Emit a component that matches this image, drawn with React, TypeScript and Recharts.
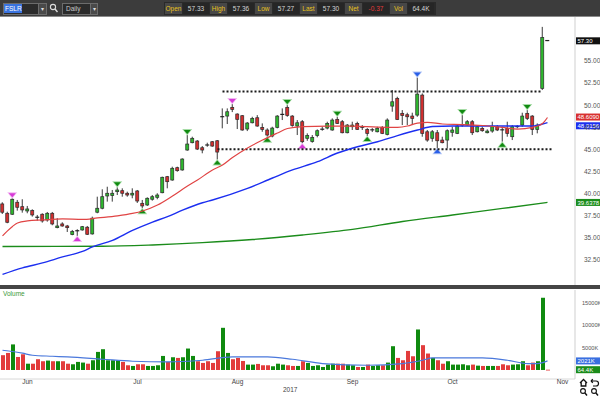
import React from 'react';
import { Bar, ComposedChart, Line, ReferenceLine, XAxis, YAxis } from 'recharts';

// FSLR daily, late May -> end of Oct 2017
const opens = [
  38.81, 37.75, 37.64, 39.0, 38.5, 38.01, 38.05, 37.3, 37.64, 36.99,
  37.75, 36.12, 36.54, 36.31, 35.33, 35.73, 35.86, 36.17, 35.41, 37.87,
  38.32, 39.71, 39.75, 40.2, 40.31, 40.02, 39.82, 40.28, 38.88, 38.69,
  39.34, 39.56, 40.08, 41.9, 41.52, 42.92, 42.66, 44.92, 45.75, 45.94,
  45.18, 45.49, 45.86, 45.97, 48.67, 48.77, 49.76, 49.0, 48.81, 47.3,
  48.01, 48.58, 47.49, 47.19, 46.51, 47.49, 48.94, 49.76, 48.77, 47.64,
  48.13, 46.25, 45.88, 46.56, 47.24, 47.41, 47.19, 48.4, 48.13, 46.88,
  47.56, 47.94, 47.47, 47.26, 47.17, 46.99, 47.49, 46.68, 49.9, 50.78,
  49.08, 48.92, 48.77, 48.88, 51.15, 46.99, 46.25, 46.88, 46.05, 46.05,
  46.93, 46.81, 47.73, 47.75, 48.13, 46.99, 47.38, 46.88, 47.07, 47.56,
  47.21, 47.38, 46.43, 47.54, 47.75, 49.08, 48.77, 47.26, 51.91, 57.33,
];
const highs = [
  39.0, 37.93, 39.45, 39.26, 39.34, 38.58, 38.2, 37.56, 37.75, 37.9,
  37.9, 37.19, 36.73, 36.43, 35.86, 35.94, 36.31, 36.31, 37.37, 39.63,
  40.47, 40.76, 40.39, 40.7, 40.58, 40.2, 40.58, 40.39, 39.26, 39.56,
  39.82, 40.02, 41.9, 41.98, 43.03, 43.03, 43.98, 46.62, 46.43, 46.05,
  45.37, 45.75, 45.94, 46.05, 49.64, 49.64, 50.13, 49.08, 48.88, 48.09,
  48.69, 48.88, 47.94, 47.38, 47.56, 48.88, 49.64, 50.02, 48.88, 48.32,
  48.32, 46.81, 46.62, 47.26, 47.56, 48.13, 48.51, 48.69, 48.32, 47.87,
  48.13, 48.13, 47.75, 47.41, 47.41, 47.56, 47.64, 48.51, 51.72, 50.96,
  49.45, 49.15, 49.15, 53.15, 51.34, 47.19, 47.19, 47.19, 46.43, 47.26,
  47.56, 47.87, 48.88, 48.32, 48.32, 47.75, 47.56, 47.26, 48.13, 47.75,
  47.56, 48.13, 47.75, 47.75, 49.15, 49.45, 48.88, 47.94, 58.88, 57.36,
];
const lows = [
  37.67, 36.62, 37.56, 38.05, 37.82, 37.75, 37.37, 36.91, 36.69, 36.8,
  36.39, 36.05, 36.23, 35.63, 35.26, 35.18, 35.78, 35.29, 35.33, 37.75,
  38.2, 39.07, 39.07, 39.82, 39.63, 39.63, 39.45, 38.92, 38.32, 38.58,
  39.18, 39.34, 40.02, 40.58, 41.44, 42.46, 42.58, 44.84, 45.68, 44.92,
  44.55, 45.29, 45.29, 43.84, 47.38, 47.87, 49.22, 47.3, 47.11, 47.07,
  47.94, 47.56, 46.99, 46.43, 46.36, 47.38, 48.32, 48.69, 47.56, 46.62,
  45.68, 45.97, 45.75, 46.36, 47.11, 47.26, 47.11, 47.87, 46.81, 46.81,
  47.19, 47.19, 47.19, 46.51, 46.96, 46.92, 46.73, 46.58, 49.26, 48.32,
  47.75, 47.75, 47.75, 48.69, 46.43, 45.86, 45.86, 45.11, 45.68, 45.11,
  46.43, 46.73, 47.56, 47.64, 46.62, 46.92, 46.99, 46.81, 46.88, 47.07,
  45.86, 46.43, 46.05, 47.38, 47.56, 48.32, 46.62, 46.81, 51.72, 57.27,
];
const closes = [
  37.87, 36.73, 39.34, 38.43, 38.13, 38.24, 37.56, 37.27, 36.88, 37.75,
  36.54, 36.31, 36.31, 36.12, 35.67, 35.77, 36.23, 35.37, 37.19, 38.32,
  39.63, 40.02, 40.02, 40.39, 40.02, 39.82, 40.02, 39.14, 38.58, 39.45,
  39.63, 39.82, 41.83, 41.33, 42.85, 42.58, 43.9, 45.6, 46.25, 45.03,
  44.92, 45.45, 45.37, 44.69, 48.7, 49.26, 49.53, 48.4, 47.19, 47.98,
  48.51, 47.64, 47.26, 46.62, 47.41, 48.77, 48.96, 48.85, 47.7, 48.01,
  45.86, 46.56, 46.36, 47.11, 47.28, 47.94, 48.32, 47.94, 46.88, 47.75,
  47.75, 47.26, 47.51, 46.81, 47.21, 47.38, 46.81, 48.32, 50.39, 48.37,
  48.83, 48.69, 48.51, 51.26, 46.81, 46.05, 46.99, 45.97, 45.75, 47.11,
  47.19, 47.64, 47.77, 48.13, 46.88, 47.56, 47.11, 47.07, 47.56, 47.19,
  47.17, 46.81, 47.56, 47.58, 48.77, 48.51, 47.26, 47.75, 57.67, 57.3,
];
// volume in thousands of shares
const volumes = [
  3300, 3800, 5700, 2900, 3500, 1400, 1400, 2400, 1950, 2100,
  1950, 1950, 1950, 1400, 1270, 1800, 1650, 1400, 2170, 4030,
  4630, 2170, 2170, 2170, 1800, 1050, 900, 1270, 1270, 900,
  900, 1050, 3130, 1800, 2840, 2690, 2840, 4780, 3130, 1950,
  1570, 1950, 1570, 4180, 9400, 3800, 2400, 2690, 2010, 1200,
  1200, 1350, 1050, 1050, 830, 1400, 1200, 1050, 900, 900,
  1950, 1570, 900, 1050, 670, 1200, 1400, 1400, 1400, 1200,
  1050, 670, 670, 1200, 900, 1050, 1050, 1650, 5300, 2690,
  2170, 4250, 3060, 9030, 5530, 3670, 2690, 2170, 1400, 1950,
  1200, 1200, 1270, 1050, 1200, 970, 900, 900, 900, 900,
  1270, 1050, 1200, 1270, 1950, 1050, 1650, 1950, 16100, 64.4,
];

// moving averages, read at a few points along each line
const ma20Knots = [
  [0, 35.18], [1, 35.75], [2, 36.26], [3, 36.65], [5, 36.88], [8, 36.99], [12, 37.11],
  [16, 37.05], [19, 37.22], [23, 37.45], [26, 37.73], [28, 38.01], [31, 38.69], [34, 39.71],
  [37, 40.84], [39, 41.52], [42, 42.66], [44, 43.22], [46, 44.07], [49, 45.15], [52, 46.05],
  [55, 46.85], [57, 47.36], [60, 47.58], [65, 47.64], [70, 47.64], [75, 47.52], [79, 47.49],
  [81, 47.64], [83, 47.98], [85, 48.06], [88, 47.87], [92, 47.81], [96, 47.7], [100, 47.49],
  [103, 47.3], [106, 47.49], [107, 47.64], [108, 47.92], [109, 48.61],
];
const ma50Knots = [
  [0, 30.82], [4, 31.56], [8, 32.12], [12, 32.8], [16, 33.43], [18, 33.94], [22, 34.67],
  [26, 35.8], [30, 36.75], [33, 37.37], [36, 38.1], [40, 38.94], [42, 39.26], [49, 40.58],
  [54, 41.75], [58, 42.66], [63, 43.6], [67, 44.58], [71, 45.29], [75, 45.86], [79, 46.56],
  [83, 47.19], [86, 47.58], [90, 47.64], [100, 47.64], [106, 47.64], [107, 47.72],
  [108, 47.87], [109, 48.02],
];
const ma200Knots = [
  [0, 33.99], [20, 34.01], [30, 34.16], [40, 34.42], [50, 34.78], [60, 35.29],
  [70, 35.92], [80, 36.82], [90, 37.56], [100, 38.3], [109, 38.98],
];
const volMaKnots = [
  [0, 4400], [4, 3740], [6, 3290], [10, 3060], [13, 2910], [20, 2390], [26, 1950],
  [33, 1790], [40, 2170], [46, 2910], [53, 2910], [58, 2390], [64, 1430], [73, 1050],
  [80, 1430], [84, 2170], [86, 2680], [96, 2680], [101, 2170], [105, 1430], [107, 1430],
  [109, 2021],
];

// pivot markers: colour letter + d (above, pointing down) / u (below, pointing up)
const markers: [number, string][] = [
  [2, 'md'], [15, 'mu'], [23, 'gd'], [28, 'gu'], [37, 'gd'], [43, 'gu'], [46, 'md'],
  [53, 'gu'], [57, 'gd'], [60, 'mu'], [67, 'gd'], [73, 'gu'], [83, 'bd'], [87, 'bu'],
  [92, 'gd'], [100, 'gu'], [105, 'gd'],
];

// dotted range lines
const levels = [
  { y: 51.55, from: 44, to: 108 },
  { y: 45.0, from: 43, to: 110 },
];

const SLOTS = 115; // candle slots across the plot, incl. empty room on the right
const monthTicks = [5, 27, 47, 70, 90, 112];
const monthLabels = ['Jun', 'Jul', 'Aug', 'Sep', 'Oct', 'Nov'];
const priceTicks = [32.5, 35, 37.5, 40, 42.5, 45, 47.5, 50, 52.5, 55];
const volTicks = [5000, 10000, 15000];

const quoteLabels = ['Open', 'High', 'Low', 'Last', 'Net', 'Vol'];
const quoteValues = ['57.33', '57.36', '57.27', '57.30', '-0.37', '64.4K'];

const rows: any[] = Array.from({ length: SLOTS }, (_, i) => {
  const r: any = { i };
  if (i < opens.length) {
    r.open = opens[i];
    r.high = highs[i];
    r.low = lows[i];
    r.close = closes[i];
    r.range = [lows[i], highs[i]];
    r.vol = volumes[i];
    r.up = closes[i] >= opens[i];
  }
  return r;
});
ma20Knots.forEach(([i, v]) => (rows[i].ma20 = v));
ma50Knots.forEach(([i, v]) => (rows[i].ma50 = v));
ma200Knots.forEach(([i, v]) => (rows[i].ma200 = v));
volMaKnots.forEach(([i, v]) => (rows[i].volMa = v));
markers.forEach(([i, m]) => (rows[i].mark = m));

const last = (k: number[][]) => k[k.length - 1][1];

const FONT = '"Liberation Sans", Arial, sans-serif';
const C_UP = '#2eb82e';
const C_DN = '#d32f2f';
const V_UP = '#0f8a0f';
const V_DN = '#e23c3c';
const MARK = { g: '#118a11', m: '#d63ad6', b: '#2a5fe8' } as Record<string, string>;
const HALO = { g: '#a6dca6', m: '#f2b6f2', b: '#b2c6f6' } as Record<string, string>;

function Candle(props: any) {
  const { x, y, width, height, payload } = props;
  if (!payload || payload.open == null) return <g />;
  const top = Math.min(y, y + height);
  const h = Math.abs(height);
  const k = h / Math.max(payload.high - payload.low, 0.0001);
  const yO = top + (payload.high - payload.open) * k;
  const yC = top + (payload.high - payload.close) * k;
  const cx = x + width / 2;
  const bTop = Math.min(yO, yC);
  const bH = Math.abs(yO - yC);
  let mark = null;
  if (payload.mark) {
    const col = payload.mark[0];
    const down = payload.mark[1] === 'd';
    const tip = down ? top - 1 : top + h + 1;
    const base = down ? tip - 4 : tip + 4;
    const pts = `${cx - 3.5},${base} ${cx + 3.5},${base} ${cx},${tip}`;
    const halo = `${cx - 5},${base + (down ? -1 : 1)} ${cx + 5},${base + (down ? -1 : 1)} ${cx},${tip + (down ? 1.5 : -1.5)}`;
    mark = (
      <g>
        <polygon points={halo} fill={HALO[col]} />
        <polygon points={pts} fill={MARK[col]} />
      </g>
    );
  }
  return (
    <g>
      <line x1={cx} x2={cx} y1={top} y2={top + h} stroke="#3a3a3a" strokeWidth={1} />
      {bH < 1.2 ? (
        <line x1={cx - 2} x2={cx + 2} y1={bTop} y2={bTop} stroke="#222" strokeWidth={1.2} />
      ) : (
        <rect x={cx - 1.5} y={bTop} width={3} height={bH} fill={payload.up ? C_UP : C_DN} stroke="#2a2a2a" strokeWidth={0.7} />
      )}
      {mark}
    </g>
  );
}

function VolBar(props: any) {
  const { x, y, height, payload } = props;
  if (!payload || payload.vol == null) return <g />;
  const top = Math.min(y, y + height);
  return <rect x={Math.round(x) + 1} y={top} width={4} height={Math.max(Math.abs(height), 0.8)} fill={payload.up ? V_UP : V_DN} />;
}

const tag = (text: string, bg: string) => (p: any) => {
  const vb = p.viewBox || {};
  const x0 = (vb.x || 0) + (vb.width || 0) + 1;
  const yy = vb.y || 0;
  return (
    <g>
      <rect x={x0} y={yy - 3.5} width={24} height={7} fill={bg} />
      <text x={x0 + 1.5} y={yy + 2.2} fontSize={6} fill="#fff" fontFamily={FONT}>
        {text}
      </text>
    </g>
  );
};

function Toolbar() {
  const box = (left: number, width: number, bg: string, color: string, text: string, key: string) => (
    <div
      key={key}
      style={{
        position: 'absolute', left, top: 3, width, height: 11, background: bg, color,
        fontSize: 6.5, lineHeight: '11px', textAlign: 'center',
      }}
    >
      {text}
    </div>
  );
  return (
    <div style={{ position: 'absolute', left: 0, top: 0, width: 600, height: 16, background: '#3c3c3c', borderBottom: '1px solid #8a8a8a' }}>
      <div style={{ position: 'absolute', left: 3, top: 3, width: 34, height: 10, background: '#2b2b2b', border: '1px solid #6c6c6c' }} />
      <div style={{ position: 'absolute', left: 4, top: 4, width: 17, height: 9, background: '#3b74e0', color: '#fff', fontSize: 6.5, lineHeight: '9px', paddingLeft: 1 }}>FSLR</div>
      <div style={{ position: 'absolute', left: 38, top: 3, width: 7, height: 10, background: '#4a4a4a', border: '1px solid #6c6c6c', color: '#ddd', fontSize: 6, lineHeight: '10px', textAlign: 'center' }}>▾</div>
      <svg style={{ position: 'absolute', left: 49, top: 3 }} width={9} height={10}>
        <circle cx={4} cy={4} r={2.6} fill="none" stroke="#ddd" strokeWidth={1.1} />
        <line x1={6} y1={6} x2={8.5} y2={9} stroke="#ddd" strokeWidth={1.4} />
      </svg>
      <div style={{ position: 'absolute', left: 62, top: 3, width: 27, height: 10, background: '#2b2b2b', border: '1px solid #6c6c6c', color: '#c8c8c8', fontSize: 6.5, lineHeight: '10px', paddingLeft: 3, boxSizing: 'content-box' }}>Daily</div>
      <div style={{ position: 'absolute', left: 90, top: 3, width: 6, height: 10, background: '#4a4a4a', border: '1px solid #6c6c6c', color: '#ddd', fontSize: 6, lineHeight: '10px', textAlign: 'center' }}>▾</div>
      <div style={{ position: 'absolute', left: 164, top: 2, width: 272, height: 13, background: '#2a2a2a' }} />
      {quoteLabels.map((l, k) => box(165 + k * 45, 17, '#474747', '#e8c21c', l, 'l' + k))}
      {quoteValues.map((v, k) =>
        box(183 + k * 45, 26, '#262626', k === 4 ? '#e23b3b' : '#d6d6d6', v, 'v' + k),
      )}
    </div>
  );
}

export default function App() {
  return (
    <div style={{ position: 'absolute', left: 0, top: 0, width: 600, height: 397, background: '#fff', overflow: 'hidden', fontFamily: FONT }}>
      <Toolbar />
      <div style={{ position: 'absolute', left: 0, top: 17 }}>
        <ComposedChart width={600} height={268} data={rows} margin={{ top: 0, right: 0, bottom: 0, left: 0 }}>
          <XAxis dataKey="i" hide />
          <YAxis
            orientation="right"
            width={25}
            domain={[29.62, 60]}
            ticks={priceTicks}
            allowDataOverflow
            tick={{ fontSize: 6.5, fill: '#555' }}
            tickFormatter={(v) => Number(v).toFixed(2)}
            tickLine={false}
            tickMargin={3}
            axisLine={{ stroke: '#cfcfcf' }}
          />
          {levels.map((l, k) => (
            <ReferenceLine
              key={k}
              segment={[{ x: l.from, y: l.y }, { x: l.to, y: l.y }]}
              stroke="#1a1a1a"
              strokeWidth={2}
              strokeDasharray="2 2"
            />
          ))}
          <Line dataKey="ma200" type="monotone" stroke="#1b8c1b" strokeWidth={1.4} dot={false} connectNulls isAnimationActive={false} />
          <Line dataKey="ma50" type="monotone" stroke="#1c2ff0" strokeWidth={1.4} dot={false} connectNulls isAnimationActive={false} />
          <Line dataKey="ma20" type="monotone" stroke="#e04444" strokeWidth={1.2} dot={false} connectNulls isAnimationActive={false} />
          <Bar dataKey="range" barSize={5} shape={(p: any) => <Candle {...p} />} isAnimationActive={false} />
          <ReferenceLine y={closes[closes.length - 1]} stroke="none" label={tag('57.30', '#111')} />
          <ReferenceLine y={last(ma20Knots) + 0.05} stroke="none" label={tag('48.6090', '#d83030')} />
          <ReferenceLine y={last(ma50Knots) - 0.35} stroke="none" label={tag('48.0156', '#1c2ff0')} />
          <ReferenceLine y={last(ma200Knots)} stroke="none" label={tag('39.6378', '#1b8c1b')} />
        </ComposedChart>
      </div>
      <div style={{ position: 'absolute', left: 0, top: 285, width: 600, height: 4, background: '#454545' }} />
      <div style={{ position: 'absolute', left: 0, top: 290 }}>
        <ComposedChart width={600} height={107} data={rows} margin={{ top: 0, right: 0, bottom: 0, left: 0 }}>
          <XAxis
            dataKey="i"
            ticks={monthTicks}
            interval={0}
            tickFormatter={(v) => monthLabels[monthTicks.indexOf(Number(v))] || ''}
            tick={{ fontSize: 6.5, fill: '#444' }}
            tickLine={false}
            tickSize={0}
            tickMargin={0}
            axisLine={{ stroke: '#d8d8d8' }}
            height={18}
          />
          <YAxis
            orientation="right"
            width={25}
            domain={[-2010, 17830]}
            ticks={volTicks}
            allowDataOverflow
            tick={{ fontSize: 5.6, fill: '#555' }}
            tickFormatter={(v) => `${v}K`}
            tickLine={false}
            tickMargin={1}
            axisLine={{ stroke: '#cfcfcf' }}
          />
          <Bar dataKey="vol" barSize={5} shape={(p: any) => <VolBar {...p} />} isAnimationActive={false} />
          <Line dataKey="volMa" type="monotone" stroke="#4a78dc" strokeWidth={1.2} dot={false} connectNulls isAnimationActive={false} />
          <ReferenceLine y={last(volMaKnots)} stroke="none" label={tag('2021K', '#3a6fe0')} />
          <ReferenceLine y={volumes[volumes.length - 1]} stroke="none" label={tag('64.4K', '#1b8c1b')} />
        </ComposedChart>
      </div>
      <div style={{ position: 'absolute', left: 3, top: 290, fontSize: 6.5, color: '#3a9a3a' }}>Volume</div>
      <div style={{ position: 'absolute', left: 283, top: 386, fontSize: 6.5, color: '#444' }}>2017</div>
      <svg style={{ position: 'absolute', left: 579, top: 378 }} width={21} height={19}>
        <path d="M1 5 L4.5 1.5 L8 5 M2.2 4.5 V8 H6.8 V4.5" fill="none" stroke="#111" strokeWidth={1.3} />
        <path d="M12 3 H17 A2.5 2.5 0 0 1 17 8 H14 M12 3 L13.8 1.2 M12 3 L13.8 4.8" fill="none" stroke="#111" strokeWidth={1.2} />
        <circle cx={4} cy={13} r={2.4} fill="none" stroke="#111" strokeWidth={1.1} />
        <line x1={5.8} y1={14.8} x2={8} y2={17.5} stroke="#111" strokeWidth={1.4} />
        <circle cx={15} cy={13} r={2.4} fill="none" stroke="#111" strokeWidth={1.1} />
        <line x1={16.8} y1={14.8} x2={19} y2={17.5} stroke="#111" strokeWidth={1.4} />
      </svg>
    </div>
  );
}
